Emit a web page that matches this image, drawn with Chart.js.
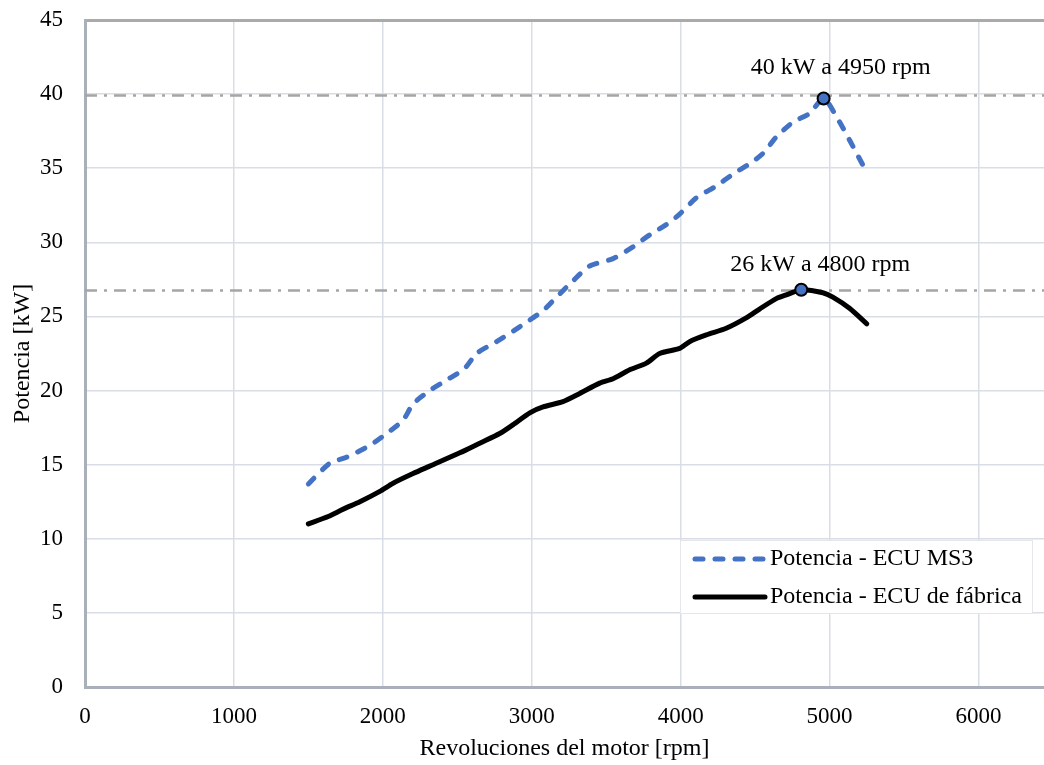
<!DOCTYPE html>
<html>
<head>
<meta charset="utf-8">
<script src="https://cdn.jsdelivr.net/npm/chart.js@4.4.1/dist/chart.umd.min.js"></script>
<style>
  html, body { margin: 0; padding: 0; background: #fff; }
  #wrap { width: 1044px; height: 765px; position: relative; }
</style>
</head>
<body>
<div id="wrap"><canvas id="chart"></canvas></div>
<script>
// power curves
const rpmMS3 = [1500,1644,1756,1913,2025,2136,2203,2315,2427,2550,2629,2763,2919,3076,3166,3277,3389,3546,3680,3792,3904,3993,4105,4239,4351,4463,4553,4642,4754,4866,4960,5045,5134,5235];
const kwMS3  = [13.7,15.1,15.5,16.3,17.1,18.0,19.1,20.0,20.7,21.5,22.5,23.3,24.3,25.4,26.3,27.4,28.4,28.9,29.7,30.5,31.2,31.9,33.0,33.8,34.6,35.3,36.0,37.1,38.1,38.7,39.7,38.5,36.9,35.0];

const rpmStock = [1500,1633,1734,1846,1980,2069,2203,2315,2517,2651,2785,2875,2987,3076,3210,3322,3456,3546,3658,3770,3859,3993,4060,4172,4306,4440,4530,4642,4709,4810,4955,5022,5134,5250];
const kwStock  = [11.0,11.5,12.0,12.5,13.2,13.75,14.4,14.9,15.8,16.45,17.1,17.7,18.5,18.9,19.25,19.8,20.5,20.8,21.4,21.85,22.5,22.85,23.3,23.75,24.2,24.9,25.5,26.2,26.45,26.8,26.6,26.3,25.55,24.5];

const peakRpm = [4960, 4810];
const peakKw = [39.7, 26.8];
const peakText = ['40 kW a 4950 rpm', '26 kW a 4800 rpm'];
const refKw = [39.9, 26.75];

const seriesNames = ['Potencia - ECU MS3', 'Potencia - ECU de fábrica'];
const xTicks = [0, 1000, 2000, 3000, 4000, 5000, 6000];
const yTicks = [0, 5, 10, 15, 20, 25, 30, 35, 40, 45];

const X_MAX = 6440;
const FONT = '"Liberation Serif", "Times New Roman", serif';
const FS = 23;   // tick labels
const FT = 24;   // titles, legend, notes
const BLUE = '#4472c4';

const toPts = (xs, ys) => xs.map((x, i) => ({ x, y: ys[i] }));

// annotation text above the peak markers + legend box
const overlay = {
  id: 'overlay',
  afterDatasetsDraw(chart) {
    const { ctx, scales: { x, y } } = chart;
    ctx.save();
    ctx.font = FT + 'px ' + FONT;
    ctx.fillStyle = '#000';
    ctx.textAlign = 'center';
    ctx.textBaseline = 'middle';
    const offs = [[17, -31], [19, -25]];
    peakText.forEach((t, i) => {
      ctx.fillText(t, x.getPixelForValue(peakRpm[i]) + offs[i][0], y.getPixelForValue(peakKw[i]) + offs[i][1]);
    });

    // legend
    const bx = 680, by = 540, bw = 352, bh = 73;
    ctx.fillStyle = '#fff';
    ctx.fillRect(bx, by, bw, bh);
    ctx.strokeStyle = '#e4e6ea';
    ctx.lineWidth = 1;
    ctx.strokeRect(bx + 0.5, by + 0.5, bw, bh);
    ctx.lineWidth = 5;
    ctx.lineCap = 'round';
    ctx.strokeStyle = BLUE;
    ctx.setLineDash([8, 12]);
    ctx.beginPath(); ctx.moveTo(695, 559); ctx.lineTo(765, 559); ctx.stroke();
    ctx.setLineDash([]);
    ctx.strokeStyle = '#000';
    ctx.beginPath(); ctx.moveTo(695, 597); ctx.lineTo(765, 597); ctx.stroke();
    ctx.fillStyle = '#000';
    ctx.textAlign = 'left';
    ctx.fillText(seriesNames[0], 770, 559);
    ctx.fillText(seriesNames[1], 770, 597);
    ctx.restore();
  }
};

new Chart(document.getElementById('chart'), {
  type: 'line',
  data: {
    datasets: [
      {
        label: 'ref40', order: 3,
        data: [{ x: 0, y: refKw[0] }, { x: X_MAX, y: refKw[0] }],
        borderColor: '#a5a5a5', borderWidth: 2.5, borderDash: [12, 7, 3, 7],
        pointRadius: 0
      },
      {
        label: 'ref26', order: 3,
        data: [{ x: 0, y: refKw[1] }, { x: X_MAX, y: refKw[1] }],
        borderColor: '#a5a5a5', borderWidth: 2.5, borderDash: [12, 7, 3, 7],
        pointRadius: 0
      },
      {
        label: seriesNames[0], order: 2,
        data: toPts(rpmMS3, kwMS3),
        borderColor: BLUE, borderWidth: 5, borderDash: [8, 12],
        borderCapStyle: 'round', tension: 0.25, pointRadius: 0
      },
      {
        label: seriesNames[1], order: 2,
        data: toPts(rpmStock, kwStock),
        borderColor: '#000', borderWidth: 5,
        borderCapStyle: 'round', borderJoinStyle: 'round', tension: 0.25, pointRadius: 0
      },
      {
        label: 'peaks', order: 1,
        data: toPts(peakRpm, peakKw),
        showLine: false, clip: false,
        pointRadius: 6, pointBackgroundColor: BLUE,
        pointBorderColor: '#000', pointBorderWidth: 2
      }
    ]
  },
  options: {
    responsive: true,
    maintainAspectRatio: false,
    animation: false,
    layout: { autoPadding: false, padding: { top: 20, right: 0, bottom: 0, left: 0 } },
    plugins: { legend: { display: false }, tooltip: { enabled: false } },
    scales: {
      x: {
        type: 'linear', min: 0, max: X_MAX,
        afterBuildTicks: s => { s.ticks = xTicks.map(v => ({ value: v })); },
        afterFit: s => { s.height = 78; s.paddingLeft = 0; s.paddingRight = 0; },
        ticks: { color: '#000', font: { family: FONT, size: FS }, padding: 16, maxRotation: 0, callback: v => String(v) },
        grid: { color: '#d9dde5', lineWidth: 1.5, drawTicks: false },
        border: { color: '#a9b0ba', width: 3 },
        title: { display: true, text: 'Revoluciones del motor [rpm]', color: '#000', font: { family: FONT, size: FT }, padding: { top: 4, bottom: 2 } }
      },
      y: {
        min: 0, max: 45,
        afterBuildTicks: s => { s.ticks = yTicks.map(v => ({ value: v })); },
        afterFit: s => { s.width = 85; s.paddingTop = 0; s.paddingBottom = 0; },
        ticks: { color: '#000', font: { family: FONT, size: FS }, padding: 22 },
        grid: {
          color: c => c.tick.value === 45 ? '#aaaaaa' : '#d9dde5',
          lineWidth: c => c.tick.value === 45 ? 3 : 1.5,
          drawTicks: false
        },
        border: { color: '#a9b0ba', width: 3 },
        title: { display: true, text: 'Potencia [kW]', color: '#000', font: { family: FONT, size: FT }, padding: { top: 8, bottom: 4 } }
      }
    }
  },
  plugins: [overlay]
});
</script>
</body>
</html>
